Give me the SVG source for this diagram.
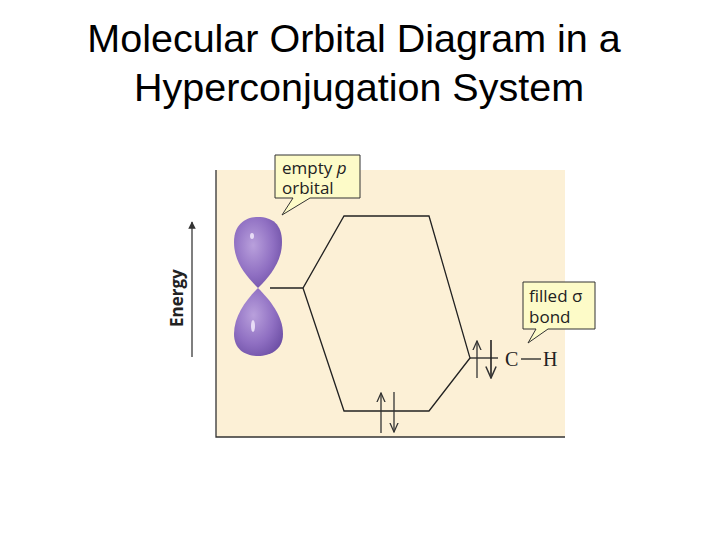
<svg xmlns="http://www.w3.org/2000/svg" width="720" height="540" viewBox="0 0 720 540">
<defs>
<style>
.t{font-family:"Liberation Sans",Arial,sans-serif;fill:#000}
.c{font-family:"Open Sans","DejaVu Sans",sans-serif;font-size:17px;fill:#222}
.l{stroke:#222;stroke-width:1.3;fill:none}
.e{stroke:#333;stroke-width:1.3;fill:none}
</style>
<radialGradient id="lobe" cx="0.4" cy="0.4" r="0.7">
<stop offset="0" stop-color="#b9a0dc"/><stop offset="0.6" stop-color="#8f6fc2"/><stop offset="1" stop-color="#6d4fa5"/>
</radialGradient>
<marker id="ah" viewBox="0 0 10 10" refX="9" refY="5" markerWidth="5" markerHeight="5" orient="auto"><path d="M0,0L10,5L0,10z" fill="#333"/></marker>
<marker id="hh" viewBox="0 0 10 10" refX="9" refY="5" markerWidth="8" markerHeight="8" orient="auto"><path d="M0,1L9,5L0,9" fill="none" stroke="#333" stroke-width="1.2"/></marker>
</defs>
<text class="t" x="354" y="52" font-size="39.5" text-anchor="middle">Molecular Orbital Diagram in a</text>
<text class="t" x="359" y="101" font-size="39.5" text-anchor="middle">Hyperconjugation System</text>
<g id="panel">
<rect x="216" y="170" width="349" height="267" fill="#fcf0d6"/>
<path d="M216,170V437H565" stroke="#333" stroke-width="1.3" fill="none"/>
</g>
<g id="energy">
<line x1="192" y1="357" x2="192" y2="222" stroke="#555" stroke-width="1.5" marker-end="url(#ah)"/>
<text class="c" font-weight="bold" font-size="17" transform="translate(183,327) rotate(-90)">Energy</text>
</g>
<g id="orbital">
<path d="M258,288 C246,276 234,262 234,242 C234,224 246,217 258,217 C272,217 282,224 282,242 C282,262 270,276 258,288Z" fill="url(#lobe)"/>
<path d="M258,288 C270,300 283,316 283,334 C283,350 270,356 258,356 C246,356 234,350 234,334 C234,316 246,300 258,288Z" fill="url(#lobe)"/>
<ellipse cx="252" cy="236" rx="2" ry="3" fill="#e8dcf6"/>
<ellipse cx="253" cy="326" rx="2" ry="6" fill="#e8dcf6"/>
</g>
<g id="connectors">
<path class="l" d="M270,288H303L344,216H429L470,358L429,411H344L303,288"/>
<line class="l" x1="470" y1="358" x2="498" y2="358"/>
<line class="e" x1="381" y1="433" x2="381" y2="393" marker-end="url(#hh)"/>
<line class="e" x1="394" y1="392" x2="394" y2="432" marker-end="url(#hh)"/>
<line class="e" x1="477" y1="378" x2="477" y2="341" marker-end="url(#hh)"/>
<line x1="491" y1="340" x2="491" y2="378" stroke="#222" stroke-width="1.6" marker-end="url(#hh)"/>
</g>
<g id="ch">
<text x="505" y="366" font-family="Liberation Serif,serif" font-size="20" fill="#222">C</text>
<line x1="521" y1="359" x2="541" y2="359" stroke="#222" stroke-width="1.3"/>
<text x="543" y="366" font-family="Liberation Serif,serif" font-size="20" fill="#222">H</text>
</g>
<g id="callout1">
<path d="M275,155H360V198H310L282,215L293,198H275Z" fill="#fdfbc8" stroke="#333" stroke-width="1"/>
<text class="c" x="282" y="174">empty <tspan font-style="italic">p</tspan></text>
<text class="c" x="282" y="194">orbital</text>
</g>
<g id="callout2">
<path d="M523,282H595V329H548L528,343L536,329H523Z" fill="#fdfbc8" stroke="#333" stroke-width="1"/>
<text class="c" x="529" y="302">filled σ</text>
<text class="c" x="529" y="323">bond</text>
</g>
</svg>
